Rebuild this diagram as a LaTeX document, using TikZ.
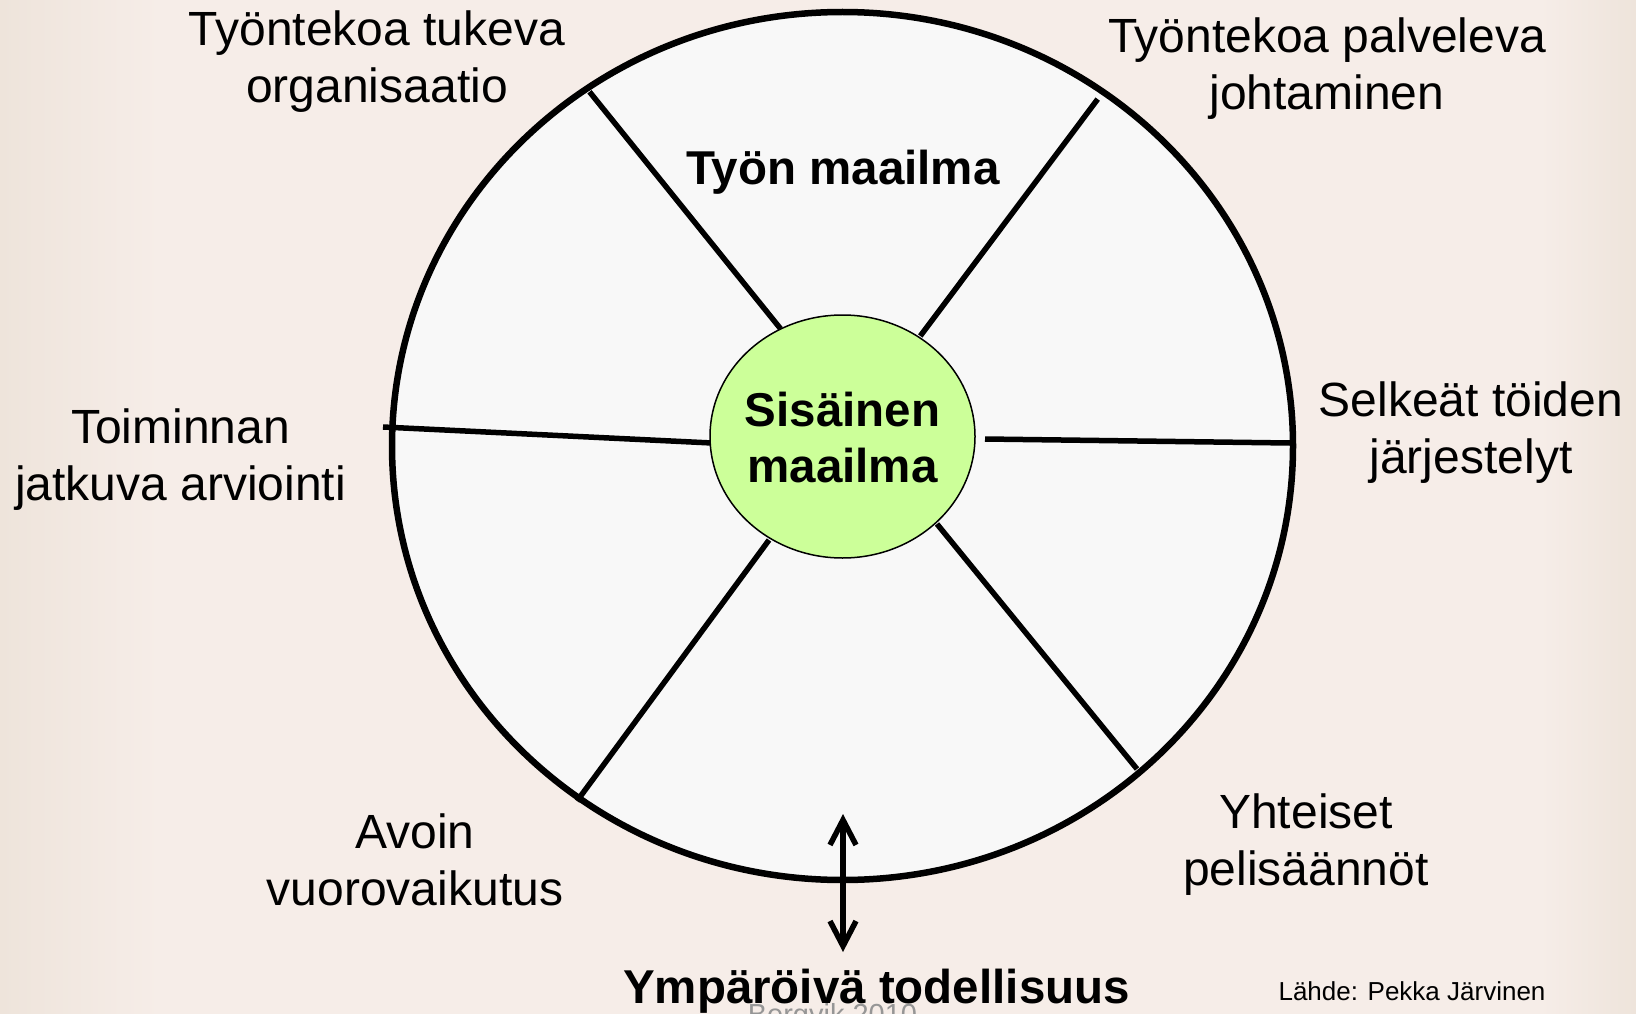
\documentclass[tikz,border=0pt]{standalone}
\usepackage{fontspec}
\setmainfont{Liberation Sans}
\usetikzlibrary{shapes.geometric,arrows.meta}
\definecolor{bg}{RGB}{246,237,232}
\definecolor{bgdark}{RGB}{238,228,219}
\definecolor{wheelfill}{RGB}{248,248,248}
\definecolor{corefill}{RGB}{204,255,153}
\definecolor{notegray}{RGB}{150,150,150}
\tikzset{
  lbl/.style={font=\fontsize{48}{57}\selectfont, align=center, inner sep=0pt},
  blbl/.style={font=\fontsize{47.5}{56}\selectfont\bfseries, align=center, inner sep=0pt},
  spoke/.style={line width=5.5pt},
  smallnote/.style={font=\fontsize{26}{30}\selectfont, inner sep=0pt},
  graynote/.style={font=\fontsize{29}{33}\selectfont, text=notegray, inner sep=0pt},
  barb/.tip={Straight Barb[length=25pt,width=26pt]}
}
\begin{document}
\begin{tikzpicture}[x=1pt,y=-1pt]
\useasboundingbox (0,0) rectangle (1636,1014);
\fill[bg] (0,0) rectangle (1636,1014);
\shade[left color=bgdark, right color=bg] (0,0) rectangle (160,1014);
\shade[left color=bg, right color=bgdark] (1540,0) rectangle (1636,1014);

\node[ellipse, draw, fill=wheelfill, line width=6.5pt, minimum width=901pt, minimum height=868pt, inner sep=0pt] (wheel) at (842.5,446) {};

\coordinate (s1a) at (589.5,91.8);  \coordinate (s1b) at (780.5,328.7);
\coordinate (s2a) at (1097.7,99.1); \coordinate (s2b) at (920.3,336);
\coordinate (s3a) at (383,427);     \coordinate (s3b) at (712,443);
\coordinate (s4a) at (1290,443);    \coordinate (s4b) at (985,439);
\coordinate (s5a) at (577,801);     \coordinate (s5b) at (769,540);
\coordinate (s6a) at (1137,769);    \coordinate (s6b) at (937,524);
\draw[spoke] (s1a) -- (s1b);
\draw[spoke] (s2a) -- (s2b);
\draw[spoke] (s3a) -- (s3b);
\draw[spoke] (s4a) -- (s4b);
\draw[spoke] (s5a) -- (s5b);
\draw[spoke] (s6a) -- (s6b);

\node[ellipse, draw, fill=corefill, line width=1.5pt, minimum width=265pt, minimum height=243pt, inner sep=0pt] (core) at (842.5,436.5) {};
\node[blbl] (corelbl) at (842.5,437.5) {Sisäinen\\maailma};

\coordinate (arrTop) at (843,814);
\coordinate (arrBot) at (843,952);
\draw[line width=5.5pt, barb-barb] (arrTop) -- (arrBot);

\node[lbl] (t1) at (377,62) {Työntekoa tukeva\\organisaatio};
\node[lbl] (t2) at (1327,69) {Työntekoa palveleva\\johtaminen};
\node[lbl] (t3) at (180.5,460) {Toiminnan\\jatkuva arviointi};
\node[lbl] (t4) at (1471,433) {Selkeät töiden\\järjestelyt};
\node[lbl] (t5) at (415,860) {Avoin\\vuorovaikutus};
\node[lbl] (t6) at (1306,845) {Yhteiset\\pelisäännöt};
\node[blbl] (work) at (843,172) {Työn maailma};

\node[graynote, anchor=base] (src) at (832.5,1024) {Bergvik 2010};
\node[blbl, anchor=base] (env) at (876.5,1003) {Ympäröivä todellisuus};
\node[smallnote, anchor=base] (lahde) at (1412,1000) {Lähde: Pekka Järvinen};
\end{tikzpicture}
\end{document}
